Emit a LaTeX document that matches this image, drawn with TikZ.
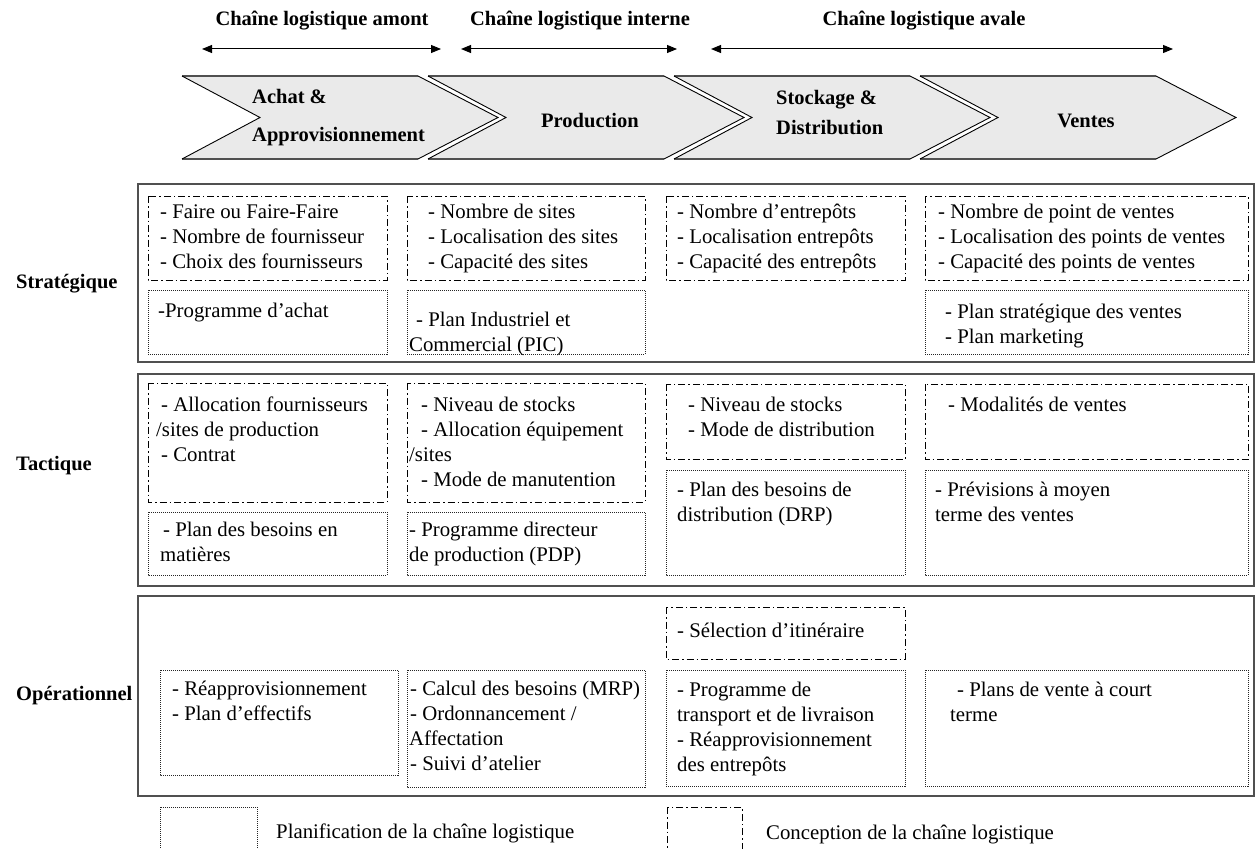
\documentclass[tikz,border=0pt]{standalone}
\usepackage{fontspec}
\setmainfont{Liberation Serif}
\usetikzlibrary{arrows.meta}
\definecolor{chevfill}{HTML}{EAEAEA}
\definecolor{edgegray}{HTML}{505050}
\begin{document}
\begin{tikzpicture}[x=1pt,y=-1pt,
  bigbox/.style={draw=edgegray,line width=1.8pt},
  ddbox/.style={draw=black,line width=0.9pt,dash pattern=on 7pt off 3pt on 1.5pt off 3pt},
  dotbox/.style={draw=black!85,line width=0.9pt,dash pattern=on 1pt off 1pt},
  txt/.style={font=\fontsize{20.8}{25}\selectfont,inner sep=0pt,anchor=north west,align=left},
  one/.style={font=\fontsize{20.8}{25}\selectfont,inner sep=0pt,anchor=base west},
  bold/.style={font=\bfseries\fontsize{20.5}{25}\selectfont,inner sep=0pt},
  chevedge/.style={draw=edgegray,line width=1.8pt},
  chevdiag/.style={draw=black,line width=0.9pt},
  dblarrow/.style={line width=1pt,{Triangle[length=10pt,width=8pt]}-{Triangle[length=10pt,width=8pt]}}
]
\useasboundingbox (0,0) rectangle (1257,848);

% headers
\node[bold,anchor=base] (h1) at (322,26) {Chaîne logistique amont};
\node[bold,anchor=base] (h2) at (580,26) {Chaîne logistique interne};
\node[bold,anchor=base] (h3) at (924,26) {Chaîne logistique avale};

\coordinate (a1l) at (202,49); \coordinate (a1r) at (441,49);
\coordinate (a2l) at (461,49); \coordinate (a2r) at (677,49);
\coordinate (a3l) at (711,49); \coordinate (a3r) at (1173,49);
\draw[dblarrow] (a1l) -- (a1r);
\draw[dblarrow] (a2l) -- (a2r);
\draw[dblarrow] (a3l) -- (a3r);

% chevrons
\foreach \L in {182,428,674,920}{
  \pgfmathsetmacro{\R}{\L+236}
  \pgfmathsetmacro{\T}{\R+80}
  \pgfmathsetmacro{\N}{\L+78}
  \fill[chevfill] (\L,76) -- (\R,76) -- (\T,117.5) -- (\R,159) -- (\L,159) -- (\N,117.5) -- cycle;
  \draw[chevedge] (\L,76) -- (\R,76);
  \draw[chevedge] (\L,159) -- (\R,159);
  \draw[chevdiag] (\R,76) -- (\T,117.5) -- (\R,159);
  \draw[chevdiag] (\L,76) -- (\N,117.5) -- (\L,159);
}
\node[bold,anchor=base west] (c1a) at (252,104) {Achat \&};
\node[bold,anchor=base west] (c1b) at (252,141) {Approvisionnement};
\node[bold,anchor=base] (c2) at (590,128) {Production};
\node[bold,anchor=base west] (c3a) at (776,105) {Stockage \&};
\node[bold,anchor=base west] (c3b) at (776,134) {Distribution};
\node[bold,anchor=base] (c4) at (1086,128) {Ventes};

% big boxes
\draw[bigbox] (138,184) rectangle (1254,362);
\draw[bigbox] (138,374) rectangle (1254,586);
\draw[bigbox] (138,596) rectangle (1254,796);

\node[bold,anchor=base west] (lstrat) at (16,288) {Stratégique};
\node[bold,anchor=base west] (ltact) at (16,470) {Tactique};
\node[bold,anchor=base west] (lop) at (16,700) {Opérationnel};

% strategic
\draw[ddbox] (148,196) rectangle (387,280);
\draw[ddbox] (407,196) rectangle (645,280);
\draw[ddbox] (666,196) rectangle (905,280);
\draw[ddbox] (925,196) rectangle (1248,280);
\draw[dotbox] (148,290) rectangle (387,354);
\draw[dotbox] (407,290) rectangle (645,354);
\draw[dotbox] (925,290) rectangle (1248,354);

\node[txt] (s1) at (160,201) {\strut- Faire ou Faire-Faire\\- Nombre de fournisseur\\- Choix des fournisseurs};
\node[txt] (s1d) at (158,300) {\strut-Programme d’achat};
\node[txt] (s2) at (428,201) {\strut- Nombre de sites\\- Localisation des sites\\- Capacité des sites};
\node[txt] (s2d) at (409,309) {\strut\hspace*{7pt}- Plan Industriel et\\Commercial (PIC)};
\node[txt] (s3) at (677,201) {\strut- Nombre d’entrepôts\\- Localisation entrepôts\\- Capacité des entrepôts};
\node[txt] (s4) at (938,201) {\strut- Nombre de point de ventes\\- Localisation des points de ventes\\- Capacité des points de ventes};
\node[txt] (s4d) at (945,301) {\strut- Plan stratégique des ventes\\- Plan marketing};

% tactic
\draw[ddbox] (148,383) rectangle (387,502);
\draw[ddbox] (407,383) rectangle (645,502);
\draw[ddbox] (666,384) rectangle (905,459);
\draw[ddbox] (925,384) rectangle (1248,459);
\draw[dotbox] (148,512) rectangle (387,575);
\draw[dotbox] (407,512) rectangle (645,575);
\draw[dotbox] (666,470) rectangle (905,575);
\draw[dotbox] (925,470) rectangle (1248,575);

\node[txt] (t1) at (156,394) {\strut\hspace*{5pt}- Allocation fournisseurs\\/sites de production\\\hspace*{5pt}- Contrat};
\node[txt] (t1d) at (160,519) {\strut\hspace*{3pt}- Plan des besoins en\\matières};
\node[txt] (t2) at (409,394) {\strut\hspace*{12pt}- Niveau de stocks\\\hspace*{12pt}- Allocation équipement\\/sites\\\hspace*{12pt}- Mode de manutention};
\node[txt] (t2d) at (409,519) {\strut- Programme directeur\\de production (PDP)};
\node[txt] (t3) at (688,394) {\strut- Niveau de stocks\\- Mode de distribution};
\node[txt] (t3d) at (677,479) {\strut- Plan des besoins de\\distribution (DRP)};
\node[txt] (t4) at (948,394) {\strut- Modalités de ventes};
\node[txt] (t4d) at (935,479) {\strut- Prévisions à moyen\\terme des ventes};

% operational
\draw[ddbox] (666,607) rectangle (905,659);
\draw[dotbox] (160,670) rectangle (398,775);
\draw[dotbox] (407,670) rectangle (645,787);
\draw[dotbox] (666,670) rectangle (905,786);
\draw[dotbox] (925,670) rectangle (1248,786);

\node[txt] (o3a) at (677,620) {\strut- Sélection d’itinéraire};
\node[txt] (o1) at (172,678) {\strut- Réapprovisionnement\\- Plan d’effectifs};
\node[txt] (o2) at (409,678) {\strut\hspace*{1pt}- Calcul des besoins (MRP)\\\hspace*{1pt}- Ordonnancement /\\Affectation\\\hspace*{1pt}- Suivi d’atelier};
\node[txt] (o3) at (677,679) {\strut- Programme de\\transport et de livraison\\- Réapprovisionnement\\des entrepôts};
\node[txt] (o4) at (950,679) {\strut\hspace*{7pt}- Plans de vente à court\\terme};

% legend
\draw[dotbox] (160,807) rectangle (257,856);
\draw[ddbox] (667,807) rectangle (742,856);
\node[one] (lg1) at (276,838) {Planification de la chaîne logistique};
\node[one] (lg2) at (766,839) {Conception de la chaîne logistique};
\end{tikzpicture}
\end{document}
